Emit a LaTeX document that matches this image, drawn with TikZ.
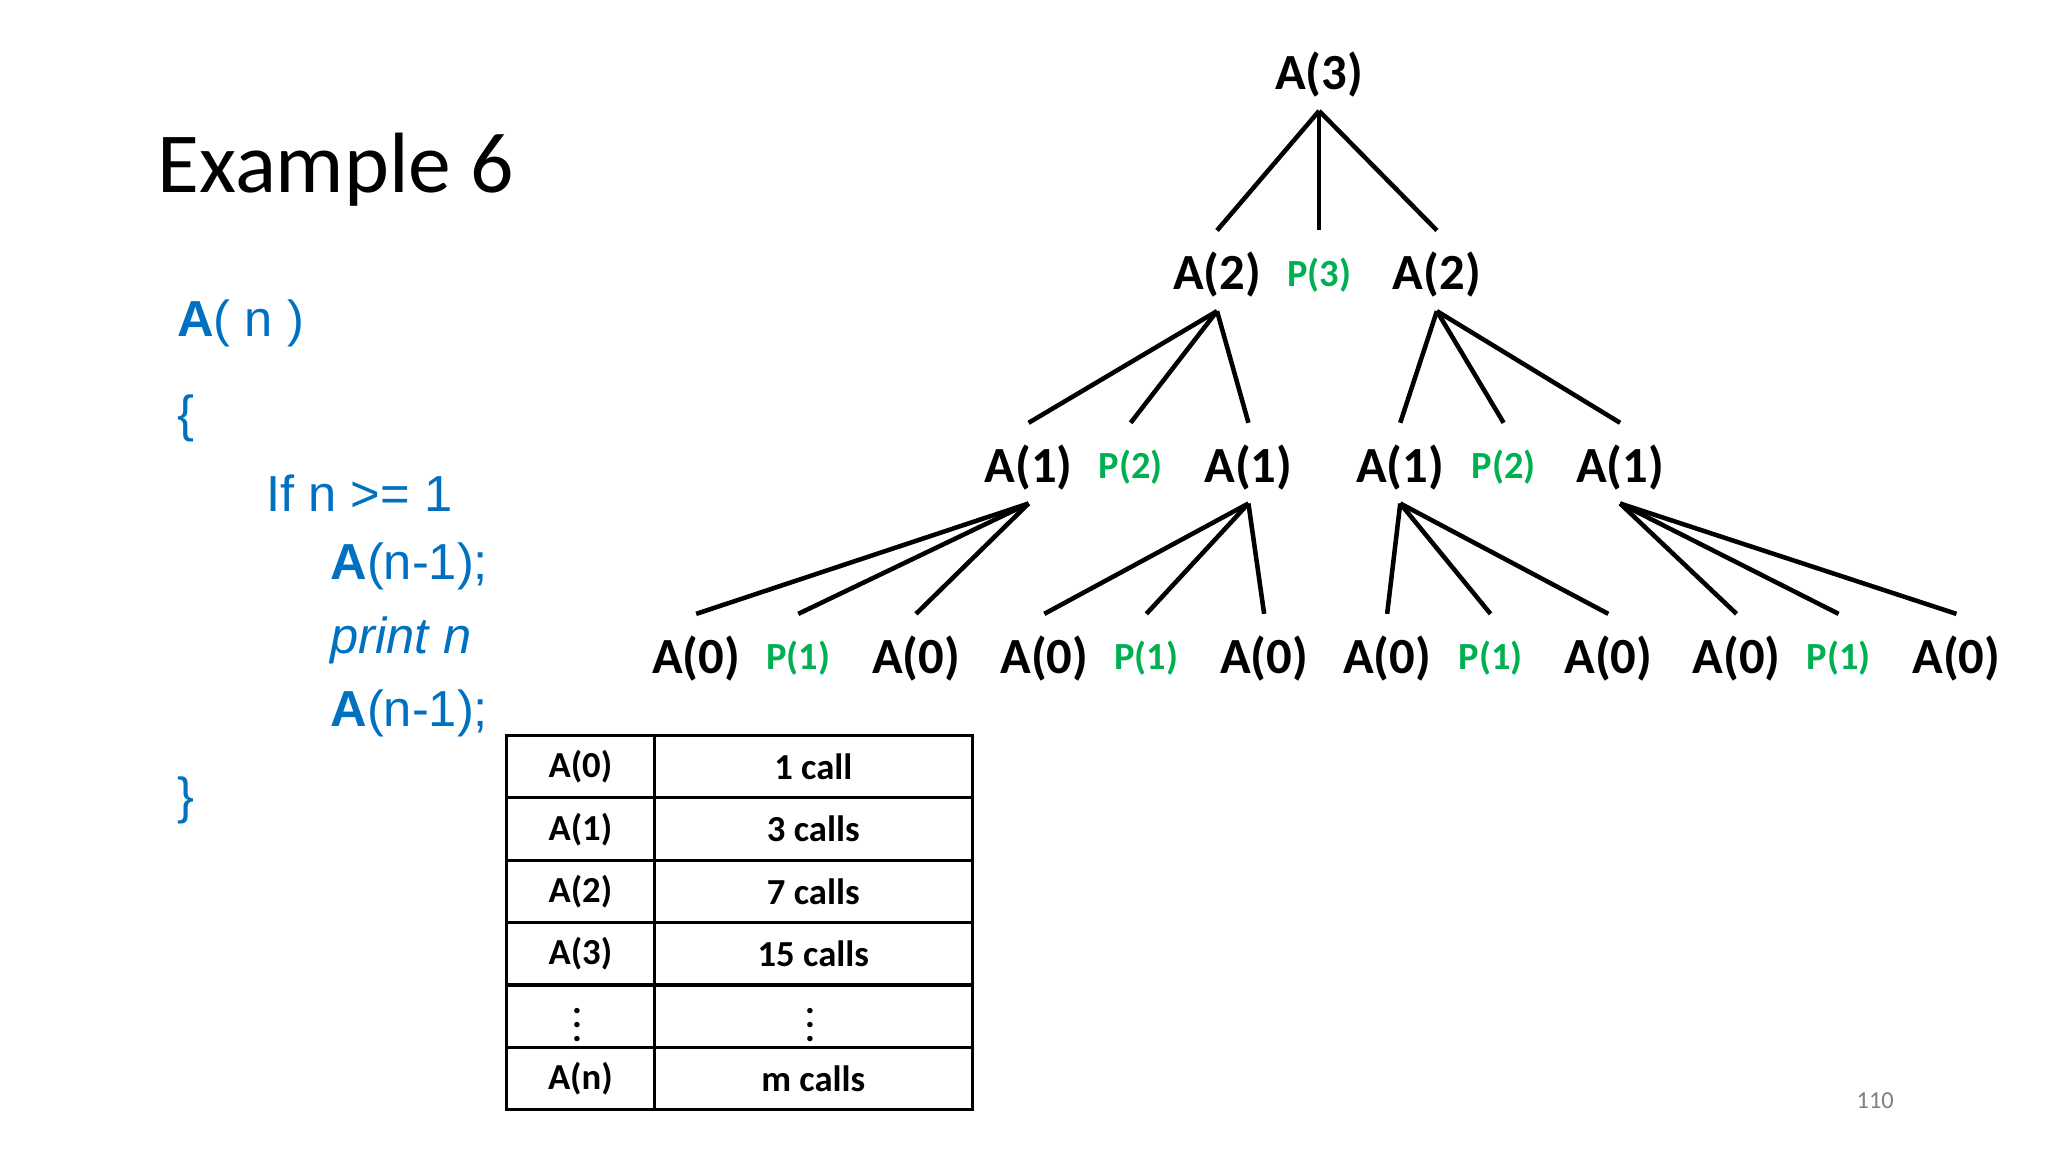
\documentclass[tikz,border=0pt]{standalone}
\usepackage{fontspec}
\setmainfont{Carlito}
\newfontfamily\codefont{Liberation Sans}
\definecolor{codeblue}{RGB}{0,112,192}
\definecolor{pgreen}{RGB}{0,176,80}
\begin{document}
\begin{tikzpicture}[x=0.01317cm,y=-0.01317cm,
  t/.style={font=\fontsize{14.5}{16}\selectfont\bfseries,inner sep=0pt},
  p/.style={font=\fontsize{11}{12}\selectfont\bfseries,text=pgreen,inner sep=0pt},
  e/.style={line width=1.3pt},
  code/.style={font=\codefont\fontsize{14.5}{18}\selectfont,text=codeblue,anchor=west,inner sep=0pt},
  cell/.style={font=\fontsize{10.5}{12}\selectfont\bfseries,inner sep=0pt}]
\useasboundingbox (0,0) rectangle (1565,880.3);
\node[anchor=west,inner sep=0pt,font=\fontsize{24.5}{28}\selectfont] (title) at (120,130) {Example 6};
\node[code] (c1) at (135,247) {\textbf{A}( n )};
\node[code] (c2) at (135,320) {\{};
\node[code] (c3) at (203,377) {If n >= 1};
\node[code] (c4) at (252,433) {\textbf{A}(n-1);};
\node[code] (c5) at (252,489) {\textit{print n}};
\node[code] (c6) at (252,545) {\textbf{A}(n-1);};
\node[code] (c7) at (135,612) {\}};
% tree
\node[t] (r) at (1008,57) {A(3)};
\node[t] (a) at (930,210) {A(2)};
\node[p] (pa) at (1008,210) {P(3)};
\node[t] (b) at (1098,210) {A(2)};
\node[t] (a1) at (786,357) {A(1)};
\node[p] (pa1) at (864,357) {P(2)};
\node[t] (a2) at (954,357) {A(1)};
\node[t] (b1) at (1070,357) {A(1)};
\node[p] (pb1) at (1149,357) {P(2)};
\node[t] (b2) at (1238,357) {A(1)};
\foreach \n/\x/\s/\l in {l1/532/t/A(0),l2/610/p/P(1),l3/700/t/A(0),l4/798/t/A(0),l5/876/p/P(1),l6/966/t/A(0),l7/1060/t/A(0),l8/1139/p/P(1),l9/1229/t/A(0),l10/1327/t/A(0),l11/1405/p/P(1),l12/1495/t/A(0)}
  \node[\s] (\n) at (\x,503) {\l};
\foreach \u/\v in {r/a,r/pa,r/b,a/a1,a/pa1,a/a2,b/b1,b/pb1,b/b2,
  a1/l1,a1/l2,a1/l3,a2/l4,a2/l5,a2/l6,b1/l7,b1/l8,b1/l9,b2/l10,b2/l11,b2/l12}
  \draw[e] ([yshift=-10.4pt]\u.center) -- ([yshift=12.7pt]\v.center);
% table
\draw[line width=0.9pt] (387,562) rectangle (743,848);
\draw[line width=0.9pt] (500,562) -- (500,848);
\foreach \i in {1,...,5} \draw[line width=0.9pt] (387,562+47.67*\i) -- (743,562+47.67*\i);
\foreach \i/\l/\r in {0/A(0)/1 call,1/A(1)/3 calls,2/A(2)/7 calls,3/A(3)/15 calls,5/A(n)/m calls}{
  \node[cell] (tl\i) at (443.5,586+47.67*\i) {\l};
  \node[cell] (tr\i) at (621.5,586+47.67*\i) {\r};}
\node[cell] (tl4) at (441,775) {$\vdots$};
\node[cell] (tr4) at (619,775) {$\vdots$};
\node[font=\fontsize{7}{8}\selectfont,text=gray] (pg) at (1433,841) {110};
\end{tikzpicture}
\end{document}
